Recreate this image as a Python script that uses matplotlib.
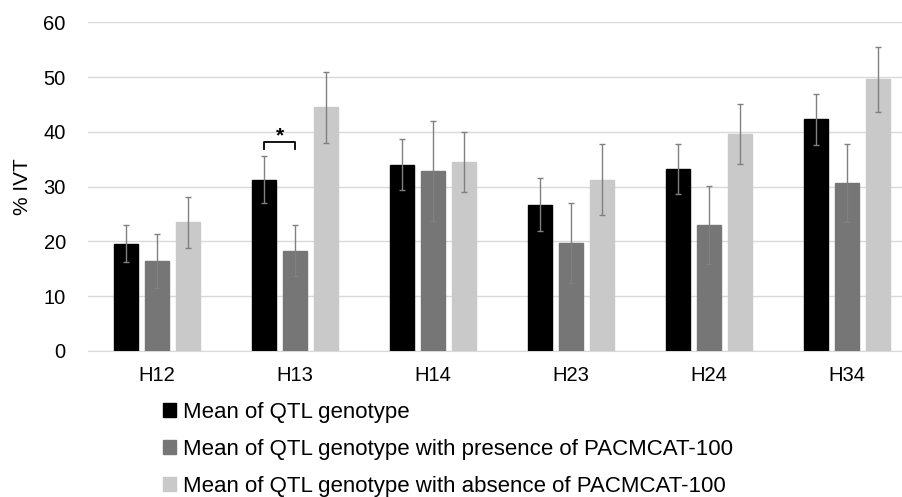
import matplotlib

matplotlib.use("Agg")

import matplotlib.pyplot as plt
import numpy as np

plt.rcParams["font.family"] = ["Liberation Sans", "DejaVu Sans"]

categories = ["H12", "H13", "H14", "H23", "H24", "H34"]
series_names = [
    "Mean of QTL genotype",
    "Mean of QTL genotype with presence of PACMCAT-100",
    "Mean of QTL genotype with absence of PACMCAT-100",
]
mean_all = [19.6, 31.3, 34.0, 26.7, 33.2, 42.3]
mean_presence = [16.4, 18.3, 32.8, 19.8, 23.0, 30.6]
mean_absence = [23.5, 44.5, 34.5, 31.3, 39.6, 49.6]
err_all = [3.4, 4.3, 4.7, 4.85, 4.5, 4.7]
err_presence = [4.9, 4.65, 9.15, 7.3, 7.15, 7.1]
err_absence = [4.65, 6.5, 5.5, 6.55, 5.4, 5.95]
colors = ["#000000", "#767676", "#c9c9c9"]

fig = plt.figure(figsize=(9.03, 4.97), dpi=100)
ax = fig.add_axes([88 / 903, 1 - 351 / 497, 828 / 903, (351 - 22.3) / 497])

x = np.arange(len(categories))
offset = 0.2246
width = 0.181
for i, (vals, errs) in enumerate(
    [(mean_all, err_all), (mean_presence, err_presence), (mean_absence, err_absence)]
):
    ax.bar(
        x + (i - 1) * offset,
        vals,
        width,
        color=colors[i],
        edgecolor=colors[i],
        label=series_names[i],
        zorder=3,
    )
    ax.errorbar(
        x + (i - 1) * offset,
        vals,
        yerr=errs,
        fmt="none",
        ecolor="#808080",
        elinewidth=1.0,
        capsize=2.5,
        capthick=1.0,
        zorder=4,
    )

# significance bracket on H13
bx0, bx1 = 1 - offset, 1.0
ax.plot([bx0, bx0, bx1, bx1], [36.8, 38.2, 38.2, 36.8], color="#000000", linewidth=1.3, zorder=5)
ax.text((bx0 + bx1) / 2, 39.3, "*", ha="center", va="center", fontsize=15, fontweight="bold")

ax.set_xlim(-0.5, len(categories) - 0.5)
ax.set_ylim(0, 60)
ax.set_yticks(range(0, 61, 10))
ax.set_xticks(x)
ax.set_xticklabels(categories)
ax.tick_params(axis="both", length=0, labelsize=14.5, colors="#000000")
ax.tick_params(axis="y", pad=16)
ax.tick_params(axis="x", pad=11)
ax.set_ylabel("% IVT", fontsize=15, labelpad=8)
ax.grid(True, axis="y", color="#d9d9d9", linewidth=1.0, zorder=0)
for side in ["top", "right", "left"]:
    ax.spines[side].set_visible(False)
ax.spines["bottom"].set_color("#d9d9d9")
ax.spines["bottom"].set_zorder(2)

fig.legend(
    loc="upper left",
    bbox_to_anchor=(163 / 903, 1 - 402 / 497),
    frameon=False,
    fontsize=16,
    handlelength=0.6,
    handleheight=0.6,
    handletextpad=0.3,
    labelspacing=0.71,
    borderpad=0,
    borderaxespad=0,
)

fig.savefig("out.png", dpi=100)
